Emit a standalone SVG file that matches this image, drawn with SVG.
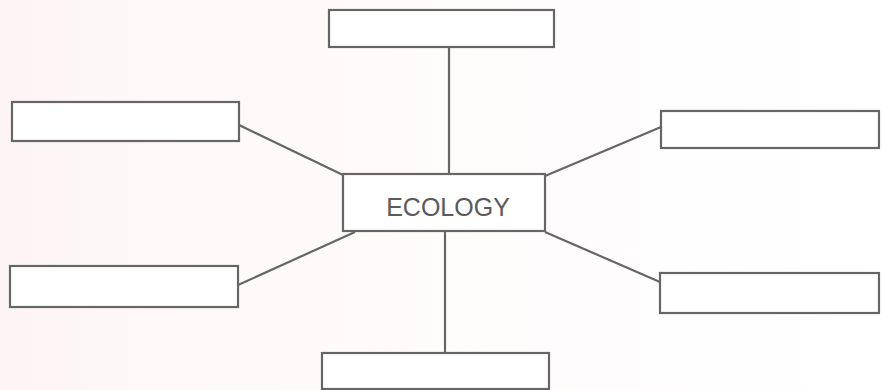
<svg xmlns="http://www.w3.org/2000/svg" width="882" height="390" viewBox="0 0 882 390">
<defs>
<linearGradient id="bg" x1="0" y1="0" x2="1" y2="0">
<stop offset="0" stop-color="#fdf5f5"/>
<stop offset="0.35" stop-color="#fefafa"/>
<stop offset="1" stop-color="#ffffff"/>
</linearGradient>
<style>
.box{fill:#ffffff;stroke:#666666;stroke-width:2.2}
.con{stroke:#666666;stroke-width:2.2;fill:none}
.lbl{font-family:"Liberation Sans",Arial,sans-serif;font-size:25px;fill:#5a5a5a;text-anchor:middle}
</style>
</defs>
<rect width="882" height="390" fill="url(#bg)"/>
<g id="connectors">
<line class="con" x1="449" y1="48" x2="449" y2="174"/>
<line class="con" x1="445" y1="231" x2="445" y2="353"/>
<line class="con" x1="239" y1="125" x2="343" y2="175"/>
<line class="con" x1="238" y1="285" x2="355" y2="232"/>
<line class="con" x1="545" y1="176" x2="661" y2="127"/>
<line class="con" x1="545" y1="232" x2="660" y2="282"/>
</g>
<g id="node-top"><rect class="box" x="329" y="10" width="225" height="37"/></g>
<g id="node-left-top"><rect class="box" x="12" y="102" width="227" height="39"/></g>
<g id="node-right-top"><rect class="box" x="661" y="111" width="218" height="37"/></g>
<g id="node-center"><rect class="box" x="343" y="174" width="202" height="57"/><text class="lbl" x="448" y="216">ECOLOGY</text></g>
<g id="node-left-bottom"><rect class="box" x="10" y="266" width="228" height="41"/></g>
<g id="node-right-bottom"><rect class="box" x="660" y="273" width="219" height="40"/></g>
<g id="node-bottom"><rect class="box" x="322" y="353" width="227" height="36"/></g>
</svg>
